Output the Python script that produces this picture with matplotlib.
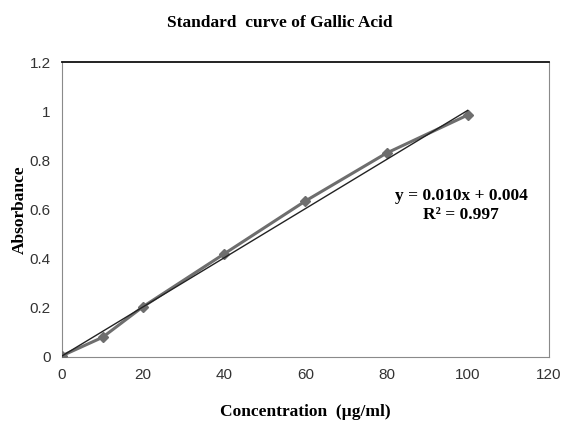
import numpy as np
import matplotlib.pyplot as plt

# Data
conc = [0, 10, 20, 40, 60, 80, 100]
absorbance = [0.005, 0.08, 0.205, 0.42, 0.635, 0.83, 0.985]
slope, intercept = 0.010, 0.004

fig = plt.figure(figsize=(5.63, 4.26), dpi=100)
ax = fig.add_axes([0.110, 0.162, 0.865, 0.692])

ax.plot(conc, absorbance, color='#6e6e6e', lw=2.2, marker='D', ms=5.5,
        mfc='#6e6e6e', mec='#6e6e6e', zorder=3)
fit_x = np.array([conc[0], conc[-1]])
ax.plot(fit_x, slope * fit_x + intercept, color='#222222', lw=1.0, zorder=4)

ax.set_xlim(0, 120)
ax.set_ylim(0, 1.2)
ax.set_xticks([0, 20, 40, 60, 80, 100, 120])
ax.set_yticks([0, 0.2, 0.4, 0.6, 0.8, 1.0, 1.2])
ax.set_yticklabels(['0', '0.2', '0.4', '0.6', '0.8', '1', '1.2'])
ax.tick_params(length=0, pad=8, labelsize=11)
for lab in ax.get_xticklabels() + ax.get_yticklabels():
    lab.set_fontfamily('Liberation Sans')
    lab.set_color('#333333')

for s in ['left', 'bottom', 'right']:
    ax.spines[s].set_color('#8a8a8a')
ax.spines['top'].set_color('#111111')
ax.spines['top'].set_linewidth(1.3)

serif = 'Liberation Serif'
fig.text(0.497, 0.946, 'Standard  curve of Gallic Acid', ha='center', va='center',
         fontfamily=serif, fontweight='bold', fontsize=12.5)
ax.set_xlabel('Concentration  (µg/ml)', fontfamily=serif, fontweight='bold',
              fontsize=12.5, labelpad=16)
ax.set_ylabel('Absorbance', fontfamily=serif, fontweight='bold', fontsize=12.5,
              labelpad=1)
ax.text(0.82, 0.515, 'y = 0.010x + 0.004\nR² = 0.997', transform=ax.transAxes,
        ha='center', va='center', fontfamily=serif, fontweight='bold',
        fontsize=12.5, linespacing=1.25)

fig.savefig('out.png', dpi=100)
